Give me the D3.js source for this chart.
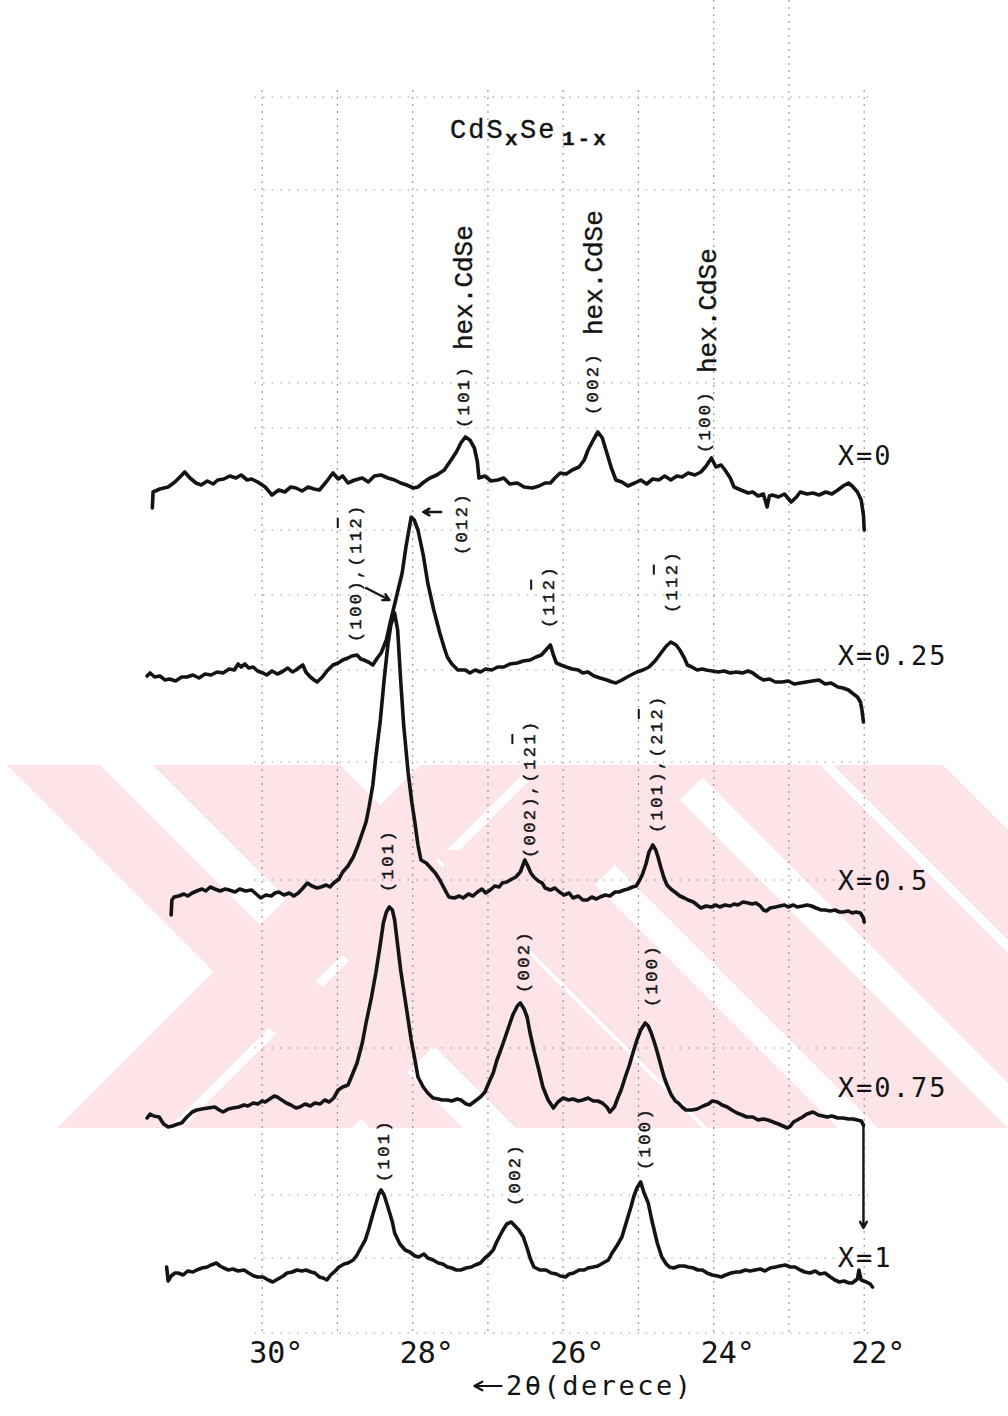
<!DOCTYPE html>
<html>
<head>
<meta charset="utf-8">
<script src="https://cdn.jsdelivr.net/npm/d3@7"></script>
<style>
  html, body { margin: 0; padding: 0; background: #ffffff; }
  svg { display: block; }
</style>
</head>
<body>
<svg id="chart" width="1008" height="1416"></svg>
<script>
// ---- XRD scans of CdSxSe1-x films: [2θ (deg), intensity (a.u.)] ----
const scanX0 = [[31.46,32],[31.45,48],[31.36,51],[31.25,53],[31.16,58],[31.08,64],[31.03,68],[30.96,62],[30.88,57],[30.81,55],[30.73,59],[30.65,56],[30.59,60],[30.51,61],[30.43,64],[30.35,62],[30.28,65],[30.20,60],[30.14,61],[30.06,58],[29.96,53],[29.87,45],[29.78,50],[29.70,48],[29.62,53],[29.55,52],[29.47,49],[29.39,53],[29.31,51],[29.24,50],[29.15,58],[29.06,67],[28.99,61],[28.93,64],[28.86,57],[28.77,60],[28.67,62],[28.59,58],[28.51,64],[28.42,65],[28.33,62],[28.24,60],[28.16,57],[28.08,55],[27.99,52],[27.93,53],[27.85,58],[27.77,62],[27.68,65],[27.58,70],[27.49,80],[27.42,88],[27.36,97],[27.30,103],[27.24,100],[27.18,92],[27.14,78],[27.12,62],[27.04,64],[26.96,59],[26.87,60],[26.79,62],[26.71,56],[26.61,57],[26.52,53],[26.41,52],[26.32,54],[26.24,57],[26.17,57],[26.11,62],[26.04,67],[25.96,66],[25.88,70],[25.79,73],[25.72,80],[25.67,90],[25.60,100],[25.54,108],[25.48,102],[25.42,87],[25.36,72],[25.30,60],[25.22,58],[25.14,54],[25.05,57],[24.97,60],[24.89,56],[24.81,61],[24.73,60],[24.65,64],[24.57,60],[24.49,64],[24.42,63],[24.34,67],[24.25,65],[24.17,68],[24.10,74],[24.03,82],[23.97,73],[23.90,75],[23.85,70],[23.78,62],[23.73,53],[23.64,50],[23.54,47],[23.48,48],[23.41,44],[23.34,46],[23.29,33],[23.26,44],[23.22,45],[23.14,43],[23.06,46],[22.97,38],[22.90,43],[22.85,48],[22.76,46],[22.68,47],[22.60,45],[22.51,48],[22.43,46],[22.35,50],[22.28,54],[22.21,57],[22.16,54],[22.09,48],[22.04,40],[22.01,25],[22.00,10]];

const scanX025 = [[31.53,54],[31.49,57],[31.43,53],[31.36,54],[31.29,50],[31.23,51],[31.15,49],[31.07,53],[31.00,53],[30.92,55],[30.84,52],[30.76,56],[30.68,55],[30.60,58],[30.52,57],[30.44,61],[30.37,60],[30.32,66],[30.28,63],[30.23,66],[30.18,62],[30.12,63],[30.06,59],[29.99,57],[29.94,55],[29.87,59],[29.80,56],[29.74,58],[29.66,62],[29.60,58],[29.55,60],[29.50,63],[29.46,65],[29.42,58],[29.36,53],[29.31,50],[29.27,48],[29.20,53],[29.14,59],[29.06,65],[28.99,67],[28.93,70],[28.86,72],[28.81,74],[28.74,75],[28.69,71],[28.65,70],[28.59,68],[28.53,65],[28.47,72],[28.42,77],[28.35,90],[28.30,107],[28.22,132],[28.14,157],[28.09,183],[28.02,213],[27.98,210],[27.93,200],[27.86,175],[27.80,147],[27.72,120],[27.64,97],[27.58,82],[27.54,73],[27.48,66],[27.40,60],[27.30,60],[27.24,57],[27.17,60],[27.10,58],[27.03,61],[26.95,60],[26.87,63],[26.79,63],[26.71,66],[26.61,67],[26.53,69],[26.44,70],[26.36,73],[26.29,75],[26.23,80],[26.17,85],[26.13,75],[26.09,67],[26.03,65],[25.96,63],[25.88,61],[25.80,60],[25.74,57],[25.67,58],[25.59,54],[25.51,52],[25.42,50],[25.35,48],[25.30,47],[25.22,50],[25.15,53],[25.10,55],[25.02,58],[24.94,60],[24.86,63],[24.78,69],[24.70,77],[24.63,84],[24.57,88],[24.50,85],[24.45,80],[24.39,72],[24.35,65],[24.29,63],[24.22,60],[24.15,61],[24.10,60],[24.02,59],[23.94,58],[23.86,59],[23.78,57],[23.70,58],[23.62,57],[23.54,59],[23.48,57],[23.41,53],[23.34,50],[23.26,51],[23.18,48],[23.09,48],[23.01,49],[22.93,46],[22.85,47],[22.77,48],[22.69,49],[22.60,50],[22.52,46],[22.44,47],[22.35,43],[22.28,42],[22.21,40],[22.16,37],[22.09,33],[22.05,28],[22.03,20],[22.01,8]];

const scanX05 = [[31.21,15],[31.20,30],[31.17,33],[31.11,34],[31.04,36],[30.99,34],[30.93,37],[30.87,39],[30.80,41],[30.75,39],[30.69,43],[30.63,41],[30.56,39],[30.49,41],[30.44,40],[30.36,38],[30.30,41],[30.22,39],[30.14,40],[30.08,36],[30.02,32],[29.95,35],[29.88,34],[29.83,37],[29.78,38],[29.71,35],[29.64,37],[29.58,34],[29.52,37],[29.47,41],[29.40,47],[29.34,44],[29.27,42],[29.22,43],[29.15,45],[29.10,43],[29.05,47],[28.98,51],[28.93,58],[28.86,64],[28.79,73],[28.73,84],[28.67,97],[28.62,108],[28.58,123],[28.53,145],[28.49,173],[28.43,210],[28.38,250],[28.33,285],[28.29,305],[28.24,317],[28.20,300],[28.16,250],[28.12,205],[28.06,157],[28.01,127],[27.97,107],[27.93,85],[27.89,70],[27.82,67],[27.76,62],[27.70,57],[27.64,50],[27.57,40],[27.52,33],[27.45,32],[27.38,34],[27.33,32],[27.26,36],[27.20,34],[27.14,38],[27.08,41],[27.03,37],[26.97,40],[26.91,44],[26.85,43],[26.81,47],[26.75,48],[26.68,51],[26.63,53],[26.57,58],[26.53,66],[26.51,70],[26.47,64],[26.43,57],[26.39,53],[26.33,49],[26.28,47],[26.24,42],[26.17,40],[26.11,42],[26.05,38],[25.99,35],[25.92,37],[25.87,32],[25.80,34],[25.74,30],[25.68,30],[25.62,33],[25.56,31],[25.51,33],[25.44,35],[25.38,34],[25.31,38],[25.26,38],[25.19,40],[25.14,41],[25.08,43],[25.03,44],[24.99,49],[24.95,55],[24.90,66],[24.86,78],[24.81,85],[24.77,80],[24.74,73],[24.70,62],[24.66,52],[24.62,45],[24.57,41],[24.50,37],[24.45,34],[24.39,32],[24.34,30],[24.27,28],[24.22,25],[24.17,22],[24.10,24],[24.03,23],[23.97,25],[23.92,23],[23.85,25],[23.78,24],[23.73,26],[23.68,25],[23.61,28],[23.54,27],[23.49,26],[23.44,27],[23.38,24],[23.34,20],[23.30,19],[23.25,22],[23.18,23],[23.12,24],[23.06,25],[23.01,23],[22.94,25],[22.89,23],[22.82,24],[22.76,25],[22.70,24],[22.64,22],[22.57,20],[22.52,20],[22.45,19],[22.39,20],[22.33,18],[22.28,18],[22.21,19],[22.16,17],[22.11,18],[22.05,17],[22.01,12],[22.00,8]];

const scanX075 = [[31.53,22],[31.49,26],[31.44,24],[31.37,23],[31.31,16],[31.25,13],[31.19,14],[31.12,16],[31.07,17],[31.00,23],[30.93,28],[30.87,30],[30.80,31],[30.72,32],[30.63,33],[30.57,30],[30.52,28],[30.45,31],[30.39,32],[30.31,33],[30.24,35],[30.19,34],[30.12,37],[30.06,36],[30.00,39],[29.96,38],[29.90,41],[29.84,44],[29.80,43],[29.74,40],[29.68,37],[29.62,35],[29.55,32],[29.50,33],[29.43,36],[29.36,34],[29.30,37],[29.23,36],[29.17,40],[29.11,38],[29.05,42],[28.99,50],[28.93,53],[28.86,55],[28.81,64],[28.74,77],[28.67,97],[28.62,117],[28.55,142],[28.49,167],[28.43,196],[28.39,217],[28.35,228],[28.31,233],[28.27,230],[28.24,220],[28.20,195],[28.16,170],[28.12,150],[28.06,120],[28.02,100],[27.97,80],[27.93,63],[27.86,53],[27.80,47],[27.73,42],[27.66,41],[27.61,40],[27.54,40],[27.48,39],[27.41,41],[27.36,40],[27.29,36],[27.24,35],[27.17,39],[27.10,43],[27.04,48],[26.99,57],[26.93,67],[26.88,80],[26.83,90],[26.77,103],[26.72,114],[26.67,125],[26.61,134],[26.57,137],[26.52,131],[26.48,123],[26.44,107],[26.39,90],[26.33,72],[26.27,53],[26.20,40],[26.13,32],[26.07,38],[26.00,42],[25.93,40],[25.87,41],[25.80,39],[25.74,40],[25.67,42],[25.60,39],[25.54,39],[25.48,37],[25.42,33],[25.38,28],[25.32,33],[25.27,43],[25.23,50],[25.18,62],[25.12,75],[25.07,88],[25.02,100],[24.97,110],[24.91,117],[24.87,114],[24.83,107],[24.79,98],[24.75,88],[24.70,74],[24.66,63],[24.62,55],[24.57,46],[24.51,39],[24.47,37],[24.42,33],[24.37,30],[24.29,30],[24.22,31],[24.14,34],[24.07,36],[24.02,39],[23.95,38],[23.89,35],[23.82,33],[23.76,30],[23.69,27],[23.62,25],[23.56,23],[23.48,23],[23.41,20],[23.34,21],[23.28,20],[23.21,18],[23.14,16],[23.08,14],[23.02,12],[22.98,14],[22.94,18],[22.89,20],[22.82,23],[22.76,26],[22.68,28],[22.61,25],[22.55,24],[22.49,23],[22.43,24],[22.35,22],[22.28,22],[22.21,21],[22.15,21],[22.09,20],[22.04,19],[22.01,15]];

const scanX1 = [[31.27,33],[31.25,19],[31.21,24],[31.16,27],[31.12,27],[31.05,25],[30.99,29],[30.92,28],[30.87,30],[30.80,32],[30.73,33],[30.68,35],[30.61,37],[30.56,34],[30.51,32],[30.45,30],[30.39,31],[30.32,29],[30.24,30],[30.18,27],[30.11,24],[30.06,23],[29.99,23],[29.92,20],[29.86,18],[29.79,21],[29.72,24],[29.67,27],[29.60,28],[29.54,30],[29.47,29],[29.42,30],[29.35,28],[29.30,27],[29.24,23],[29.19,22],[29.14,20],[29.09,25],[29.03,29],[28.98,33],[28.91,36],[28.86,37],[28.79,40],[28.74,45],[28.69,52],[28.63,60],[28.58,72],[28.54,83],[28.49,96],[28.45,106],[28.42,110],[28.38,105],[28.33,93],[28.27,78],[28.24,67],[28.17,56],[28.10,50],[28.04,48],[27.97,44],[27.92,43],[27.85,46],[27.80,42],[27.73,40],[27.66,37],[27.60,36],[27.54,33],[27.48,32],[27.42,30],[27.36,30],[27.29,32],[27.22,33],[27.17,35],[27.10,37],[27.04,42],[26.99,45],[26.93,50],[26.89,57],[26.85,63],[26.80,70],[26.75,76],[26.69,78],[26.64,74],[26.59,70],[26.53,63],[26.48,52],[26.44,42],[26.39,33],[26.31,30],[26.23,30],[26.16,27],[26.09,26],[26.04,24],[25.97,23],[25.92,26],[25.86,27],[25.79,30],[25.72,30],[25.67,32],[25.60,33],[25.54,34],[25.47,37],[25.40,40],[25.35,47],[25.28,55],[25.22,63],[25.16,78],[25.10,93],[25.06,104],[25.02,112],[24.97,118],[24.93,108],[24.87,97],[24.82,79],[24.75,57],[24.69,43],[24.63,36],[24.59,33],[24.53,32],[24.46,34],[24.39,34],[24.34,33],[24.27,32],[24.21,30],[24.15,30],[24.09,27],[24.02,25],[23.95,24],[23.90,23],[23.84,25],[23.77,27],[23.70,28],[23.65,28],[23.58,30],[23.52,29],[23.45,30],[23.38,31],[23.32,29],[23.25,32],[23.18,33],[23.12,34],[23.05,35],[22.98,33],[22.92,33],[22.85,30],[22.79,28],[22.72,27],[22.65,29],[22.59,26],[22.52,27],[22.45,23],[22.39,20],[22.33,18],[22.27,19],[22.20,17],[22.16,17],[22.09,21],[22.07,30],[22.04,20],[21.97,18],[21.92,16],[21.89,13]];

// compositions, vertical stacking offsets and their label levels
const compositions = ["X=0", "X=0.25", "X=0.5", "X=0.75", "X=1"];
const stackOffsets = [760, 570, 370, 160, 0];
const compositionLabelLevels = [835, 635, 410, 203, 33];

// 2θ axis
const tickDegrees = [30, 28, 26, 24, 22];
const tickLabels = ["30°", "28°", "26°", "24°", "22°"];
const axisTitle = "2θ(derece)";

// reflection labels: text, 2θ position, level, index of the barred digit
const reflectionLabels = [
  { text: "(101)", angle: 27.25, level: 872 },
  { text: "(002)", angle: 25.54, level: 885 },
  { text: "(100)", angle: 24.05, level: 847 },
  { text: "(100),(112)", angle: 28.69, level: 658, bar: 9 },
  { text: "(012)", angle: 27.28, level: 745 },
  { text: "(112)", angle: 26.12, level: 672, bar: 3 },
  { text: "(112)", angle: 24.49, level: 687, bar: 3 },
  { text: "(002),(121)", angle: 26.37, level: 442, bar: 9 },
  { text: "(101),(212)", angle: 24.69, level: 467, bar: 9 },
  { text: "(101)", angle: 28.26, level: 408 },
  { text: "(002)", angle: 26.45, level: 307 },
  { text: "(100)", angle: 24.75, level: 293 },
  { text: "(101)", angle: 28.32, level: 118 },
  { text: "(002)", angle: 26.57, level: 94 },
  { text: "(100)", angle: 24.85, level: 130 }
];
const phaseLabels = [
  { text: "hex.CdSe", angle: 27.21, level: 950 },
  { text: "hex.CdSe", angle: 25.48, level: 965 },
  { text: "hex.CdSe", angle: 23.97, level: 927 }
];
// pointer arrows: from [2θ, level] to [2θ, level]
const pointerArrows = [
  { from: [28.62, 712], to: [28.31, 700] },
  { from: [27.62, 788], to: [27.86, 788] },
  { from: [22.01, 175], to: [22.01, 72] }
];

// chart-paper rules: columns in degrees with their top level, rows in levels
const paperColumns = [[30, 1210], [29, 1210], [28, 1210], [27, 1210], [26, 1210], [25, 1210], [24, 1300], [23, 1300], [22, 1210]];
const paperRows = [1203, 1110, 917, 872, 770, 705, 630, 538, 420, 252, 105, 42, -33];

// background stamp: 45° bands, x span given on the line y = stampTop
// (lean +1 runs down-right, -1 runs down-left; "start" delays a band's top edge)
const stampTop = 765, stampBottom = 1128;
const stampBands = [
  { from: 7, to: 100, lean: 1 },
  { from: 153, to: 340, lean: 1 },
  { from: 345, to: 475, lean: 1, start: 850 },
  { from: 515, to: 645, lean: 1 },
  { from: 690, to: 820, lean: 1 },
  { from: 833, to: 943, lean: 1 },
  { from: 420, to: 532, lean: -1 },
  { from: 545, to: 715, lean: -1 }
];

// ---------------------------------------------------------------
const svg = d3.select("#chart");
const x = d3.scaleLinear().domain([22, 30]).range([864.2, 262.2]);
const y = d3.scaleLinear().domain([0, 1000]).range([1300, 300]);

const MONO_SERIF = "'Liberation Mono', 'Courier New', monospace";
const MONO_SANS = "'DejaVu Sans Mono', 'Liberation Mono', monospace";
const INK = "#141414";

svg.append("rect").attr("width", 1008).attr("height", 1416).attr("fill", "#fff");

// stamp
const stamp = svg.append("g").attr("fill", "#fce4e8");
stampBands.forEach(b => {
  const y0 = b.start || stampTop;
  const d0 = b.lean * (y0 - stampTop);
  const d1 = b.lean * (stampBottom - stampTop);
  const pts = [
    [b.from + d0, y0], [b.to + d0, y0],
    [b.to + d1, stampBottom], [b.from + d1, stampBottom]
  ];
  stamp.append("polygon").attr("points", pts.map(p => p.join(",")).join(" "));
});

// chart paper
const paper = svg.append("g")
  .attr("stroke", "#3a3a3a")
  .attr("stroke-width", 1.2)
  .attr("opacity", 0.5);
paperColumns.forEach(([deg, top]) => {
  paper.append("line")
    .attr("x1", x(deg)).attr("x2", x(deg))
    .attr("y1", y(top)).attr("y2", y(-35))
    .attr("stroke-dasharray", "2 5");
});
paperRows.forEach(lv => {
  paper.append("line")
    .attr("x1", x(30.1)).attr("x2", x(21.9))
    .attr("y1", y(lv)).attr("y2", y(lv))
    .attr("stroke-dasharray", "1.5 7");
});

// scans
const scans = [scanX0, scanX025, scanX05, scanX075, scanX1];
scans.forEach((scan, i) => {
  const off = stackOffsets[i];
  const line = d3.line()
    .x(d => x(d[0]))
    .y(d => y(d[1] + off));
  svg.append("path")
    .datum(scan)
    .attr("d", line)
    .attr("fill", "none")
    .attr("stroke", INK)
    .attr("stroke-width", 3.6)
    .attr("stroke-linejoin", "round")
    .attr("stroke-linecap", "round");
});

// composition labels
compositions.forEach((c, i) => {
  svg.append("text")
    .attr("x", x(22.35))
    .attr("y", y(compositionLabelLevels[i]))
    .attr("font-family", MONO_SANS)
    .attr("font-size", 27)
    .attr("letter-spacing", 2)
    .attr("fill", INK)
    .text(c);
});

// rotated reflection labels
const refSize = 17, refSpacing = 2.4;
const refAdvance = refSize * 0.6 + refSpacing;
reflectionLabels.forEach(l => {
  const g = svg.append("g")
    .attr("transform", `translate(${x(l.angle)},${y(l.level)}) rotate(-90)`);
  g.append("text")
    .attr("x", 0).attr("y", 0)
    .attr("font-family", MONO_SERIF)
    .attr("font-size", refSize)
    .attr("letter-spacing", refSpacing)
    .attr("fill", INK)
    .attr("stroke", INK)
    .attr("stroke-width", 0.45)
    .text(l.text);
  if (l.bar !== undefined) {
    g.append("line")
      .attr("x1", l.bar * refAdvance + 0.5)
      .attr("x2", (l.bar + 1) * refAdvance - 2)
      .attr("y1", -23).attr("y2", -23)
      .attr("stroke", INK).attr("stroke-width", 2);
  }
});

phaseLabels.forEach(l => {
  svg.append("text")
    .attr("transform", `translate(${x(l.angle)},${y(l.level)}) rotate(-90)`)
    .attr("font-family", MONO_SERIF)
    .attr("font-size", 26)
    .attr("fill", INK)
    .attr("stroke", INK)
    .attr("stroke-width", 0.4)
    .text(l.text);
});

// arrows
function drawArrow(x1, y1, x2, y2, head, width) {
  const ang = Math.atan2(y2 - y1, x2 - x1);
  const spread = 0.5;
  svg.append("path")
    .attr("d", `M${x1},${y1}L${x2},${y2}` +
      `M${x2 - head * Math.cos(ang - spread)},${y2 - head * Math.sin(ang - spread)}L${x2},${y2}` +
      `L${x2 - head * Math.cos(ang + spread)},${y2 - head * Math.sin(ang + spread)}`)
    .attr("fill", "none")
    .attr("stroke", INK)
    .attr("stroke-width", width)
    .attr("stroke-linecap", "round")
    .attr("stroke-linejoin", "round");
}
pointerArrows.forEach(a => {
  drawArrow(x(a.from[0]), y(a.from[1]), x(a.to[0]), y(a.to[1]), 7, 2.4);
});

// title
const title = svg.append("text")
  .attr("x", 450).attr("y", 138)
  .attr("font-family", MONO_SERIF)
  .attr("font-size", 27)
  .attr("letter-spacing", 2)
  .attr("fill", INK)
  .attr("stroke", INK)
  .attr("stroke-width", 0.35);
title.append("tspan").text("CdS");
title.append("tspan").attr("x", 505).attr("dy", 7)
  .attr("font-size", 21).attr("font-weight", "bold").text("x");
title.append("tspan").attr("x", 520).attr("dy", -7).text("Se");
title.append("tspan").attr("x", 562).attr("dy", 7)
  .attr("font-size", 21).attr("font-weight", "bold").attr("letter-spacing", 3).text("1-x");

// 2θ tick labels
const tickSize = 30;
tickDegrees.forEach((deg, i) => {
  svg.append("text")
    .attr("x", x(deg) + 5 - tickSize * 0.602)
    .attr("y", y(-63))
    .attr("font-family", MONO_SANS)
    .attr("font-size", tickSize)
    .attr("fill", INK)
    .text(tickLabels[i]);
});

// axis title with a leftward arrow (2θ grows to the left)
const titleY = y(-95);
drawArrow(x(26.82), titleY - 9, x(27.18), titleY - 9, 9, 2.2);
svg.append("text")
  .attr("x", x(26.76))
  .attr("y", titleY)
  .attr("font-family", MONO_SANS)
  .attr("font-size", 27)
  .attr("letter-spacing", 2.5)
  .attr("fill", INK)
  .text(axisTitle);
</script>
</body>
</html>
